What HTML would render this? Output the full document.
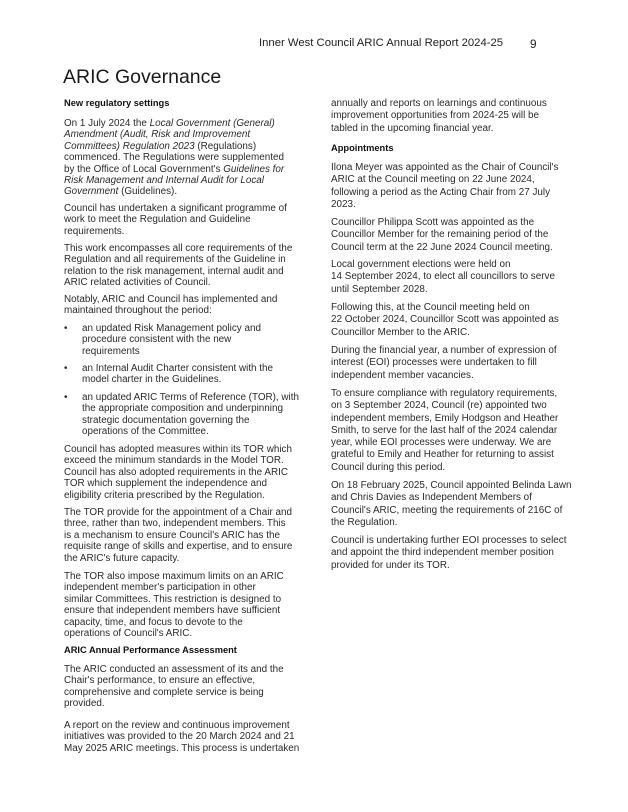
<!DOCTYPE html>
<html><head><meta charset="utf-8"><style>
body{margin:0;background:#fff;}
#pg{position:relative;width:628px;height:812px;overflow:hidden;font-family:"Liberation Sans",sans-serif;color:#2b2b2b;}
.p{position:absolute;font-size:9.9px;line-height:11.4px;white-space:nowrap;}
.l{left:64px}.r{left:331px;line-height:12.3px}
.h{font-weight:bold;font-size:9.3px;color:#111}
.b{position:absolute;left:64px;font-size:9.9px;line-height:11.4px;white-space:nowrap;padding-left:18px}
.b:before{content:"•";position:absolute;left:0;top:0}
</style></head><body><div id="pg">
<div style="position:absolute;left:259px;top:37px;font-size:11.3px;color:#222;white-space:nowrap">Inner West Council ARIC Annual Report 2024-25</div>
<div style="position:absolute;left:530px;top:37px;font-size:11.8px;color:#222">9</div>
<div style="position:absolute;left:63px;top:66px;font-size:19.5px;color:#1a1a1a">ARIC Governance</div>

<div class="p l h" style="top:98px">New regulatory settings</div>
<div class="p l" style="top:118px">On 1 July 2024 the <i>Local Government (General)</i><br><i>Amendment (Audit, Risk and Improvement</i><br><i>Committees) Regulation 2023</i> (Regulations)<br>commenced. The Regulations were supplemented<br>by the Office of Local Government's <i>Guidelines for</i><br><i>Risk Management and Internal Audit for Local</i><br><i>Government</i> (Guidelines).</div>
<div class="p l" style="top:203px">Council has undertaken a significant programme of<br>work to meet the Regulation and Guideline<br>requirements.</div>
<div class="p l" style="top:243px">This work encompasses all core requirements of the<br>Regulation and all requirements of the Guideline in<br>relation to the risk management, internal audit and<br>ARIC related activities of Council.</div>
<div class="p l" style="top:294px">Notably, ARIC and Council has implemented and<br>maintained throughout the period:</div>
<div class="b" style="top:323px">an updated Risk Management policy and<br>procedure consistent with the new<br>requirements</div>
<div class="b" style="top:363px">an Internal Audit Charter consistent with the<br>model charter in the Guidelines.</div>
<div class="b" style="top:392px">an updated ARIC Terms of Reference (TOR), with<br>the appropriate composition and underpinning<br>strategic documentation governing the<br>operations of the Committee.</div>
<div class="p l" style="top:444px">Council has adopted measures within its TOR which<br>exceed the minimum standards in the Model TOR.<br>Council has also adopted requirements in the ARIC<br>TOR which supplement the independence and<br>eligibility criteria prescribed by the Regulation.</div>
<div class="p l" style="top:507px">The TOR provide for the appointment of a Chair and<br>three, rather than two, independent members. This<br>is a mechanism to ensure Council's ARIC has the<br>requisite range of skills and expertise, and to ensure<br>the ARIC's future capacity.</div>
<div class="p l" style="top:571px">The TOR also impose maximum limits on an ARIC<br>independent member's participation in other<br>similar Committees. This restriction is designed to<br>ensure that independent members have sufficient<br>capacity, time, and focus to devote to the<br>operations of Council's ARIC.</div>
<div class="p l h" style="top:645px">ARIC Annual Performance Assessment</div>
<div class="p l" style="top:664px">The ARIC conducted an assessment of its and the<br>Chair's performance, to ensure an effective,<br>comprehensive and complete service is being<br>provided.</div>
<div class="p l" style="top:720px">A report on the review and continuous improvement<br>initiatives was provided to the 20 March 2024 and 21<br>May 2025 ARIC meetings. This process is undertaken</div>

<div class="p r" style="top:98px">annually and reports on learnings and continuous<br>improvement opportunities from 2024-25 will be<br>tabled in the upcoming financial year.</div>
<div class="p r h" style="top:142px">Appointments</div>
<div class="p r" style="top:162px">Ilona Meyer was appointed as the Chair of Council's<br>ARIC at the Council meeting on 22 June 2024,<br>following a period as the Acting Chair from 27 July<br>2023.</div>
<div class="p r" style="top:217px">Councillor Philippa Scott was appointed as the<br>Councillor Member for the remaining period of the<br>Council term at the 22 June 2024 Council meeting.</div>
<div class="p r" style="top:259px">Local government elections were held on<br>14 September 2024, to elect all councillors to serve<br>until September 2028.</div>
<div class="p r" style="top:302px">Following this, at the Council meeting held on<br>22 October 2024, Councillor Scott was appointed as<br>Councillor Member to the ARIC.</div>
<div class="p r" style="top:345px">During the financial year, a number of expression of<br>interest (EOI) processes were undertaken to fill<br>independent member vacancies.</div>
<div class="p r" style="top:388px">To ensure compliance with regulatory requirements,<br>on 3 September 2024, Council (re) appointed two<br>independent members, Emily Hodgson and Heather<br>Smith, to serve for the last half of the 2024 calendar<br>year, while EOI processes were underway. We are<br>grateful to Emily and Heather for returning to assist<br>Council during this period.</div>
<div class="p r" style="top:480px">On 18 February 2025, Council appointed Belinda Lawn<br>and Chris Davies as Independent Members of<br>Council's ARIC, meeting the requirements of 216C of<br>the Regulation.</div>
<div class="p r" style="top:535px">Council is undertaking further EOI processes to select<br>and appoint the third independent member position<br>provided for under its TOR.</div>
</div></body></html>
